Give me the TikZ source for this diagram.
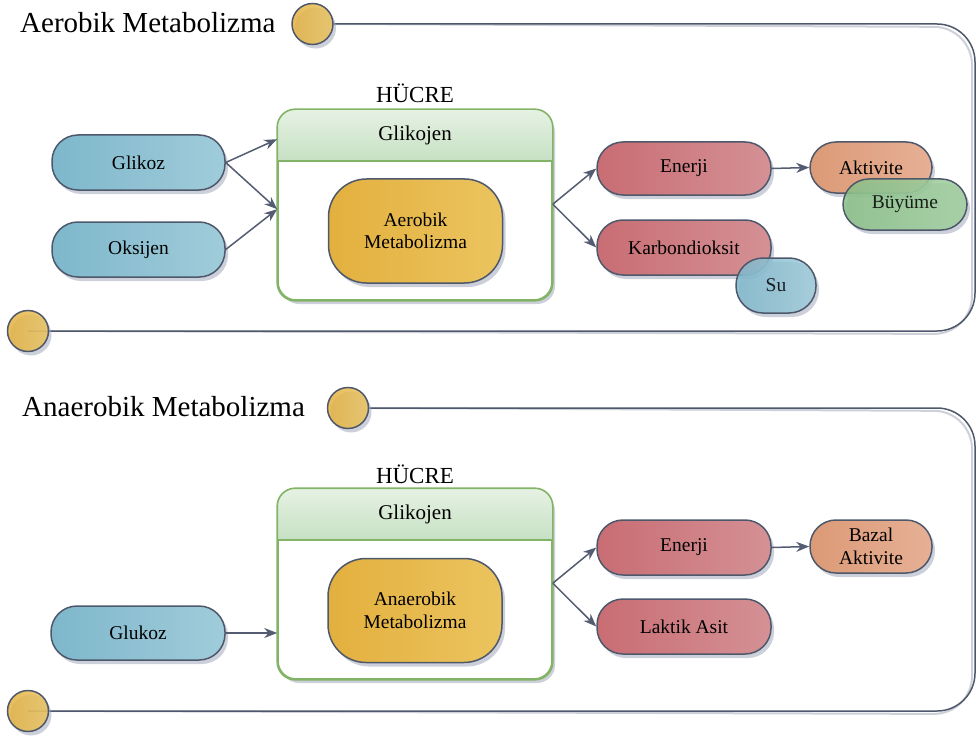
\documentclass[tikz,border=0pt]{standalone}
\usepackage{fontspec}
\setmainfont{Liberation Serif}
\usetikzlibrary{shadows,arrows.meta,calc,backgrounds}

\definecolor{ink}{HTML}{4E586B}
\definecolor{arrowc}{HTML}{535C71}
\definecolor{shadowc}{HTML}{A3A9BB}
\definecolor{blueA}{HTML}{7EB7CB}
\definecolor{blueB}{HTML}{A0CCDA}
\definecolor{redA}{HTML}{C86D73}
\definecolor{redB}{HTML}{D49195}
\definecolor{orA}{HTML}{DC9A76}
\definecolor{orB}{HTML}{E6B096}
\definecolor{grA}{HTML}{88C085}
\definecolor{grB}{HTML}{A2D09F}
\definecolor{yeA}{HTML}{E3B03E}
\definecolor{yeB}{HTML}{EBC45F}
\definecolor{cellline}{HTML}{82B366}
\definecolor{headA}{HTML}{E6F2E4}
\definecolor{headB}{HTML}{C6E0C3}
\definecolor{frameshadow}{HTML}{CDD0D9}

\tikzset{
  softshadow/.style={drop shadow={shadow xshift=3pt, shadow yshift=-4pt, fill=shadowc, opacity=0.55}},
  pill/.style={rectangle, rounded corners=26pt, draw=ink, line width=1.5pt, softshadow,
    align=center, inner sep=0pt, font=\fontsize{19.5}{22.5}\selectfont},
  bluepill/.style={pill, left color=blueA, right color=blueB},
  redpill/.style={pill, left color=redA, right color=redB},
  orpill/.style={pill, left color=orA, right color=orB},
  grpill/.style={pill, left color=grA, right color=grB},
  corepill/.style={pill, rounded corners=38pt, left color=yeA, right color=yeB,
    minimum width=174pt, minimum height=104pt},
  cell/.style={rectangle, rounded corners=18pt, draw=cellline, line width=1.6pt,
    fill=white, softshadow, minimum width=274pt, minimum height=190pt},
  dot/.style={circle, minimum size=41pt, inner sep=0pt, draw=ink, line width=1.5pt,
    left color=yeA, right color=yeB, fill opacity=0.85, softshadow},
  conn/.style={draw=arrowc, line width=1.5pt, -{Stealth[length=13pt, width=10pt]}},
  titletext/.style={anchor=base west, inner sep=0pt, font=\fontsize{29}{34}\selectfont},
  celltitle/.style={anchor=base, inner sep=0pt, font=\fontsize{23}{27}\selectfont},
  headtext/.style={inner sep=0pt, font=\fontsize{21}{25}\selectfont},
  frameline/.style={ink, line width=1.5pt, rounded corners=38pt},
  frameshade/.style={frameshadow, line width=2pt, rounded corners=38pt, xshift=-3pt, yshift=-3pt},
}

\begin{document}
\begin{tikzpicture}[x=1pt, y=-1pt]
\useasboundingbox (0,0) rectangle (976,738);

% ---------- aerobic section ----------
\node[titletext] (t1) at (20,33) {Aerobik Metabolizma};
\node[dot] (ct1) at (312.5,24) {};
\node[dot] (cb1) at (28,331) {};

\node[celltitle] (h1) at (415,103) {HÜCRE};
\node[cell] (box1) at (415,205) {};
\begin{scope}
  \clip[rounded corners=18pt] (box1.north west) rectangle (box1.south east);
  \shade[top color=headA, bottom color=headB] (box1.north west) rectangle ($(box1.north east)+(0,52)$);
\end{scope}
\draw[cellline, line width=1.6pt] ($(box1.north west)+(0,52)$) -- ($(box1.north east)+(0,52)$);
\draw[cellline, line width=1.6pt, rounded corners=18pt] (box1.north west) rectangle (box1.south east);
\node[headtext] (g1) at ($(box1.north)+(0,26)$) {Glikojen};
\node[corepill] (m1) at (415.5,231) {Aerobik\\Metabolizma};

\node[bluepill, minimum width=173pt, minimum height=55pt] (glikoz) at (138.5,162.5) {Glikoz};
\node[bluepill, minimum width=173pt, minimum height=55pt] (oksijen) at (138.5,249.5) {Oksijen};

\node[redpill, minimum width=174pt, minimum height=53pt] (enerji1) at (684,168.5) {Enerji};
\node[redpill, minimum width=174pt, minimum height=55pt] (karbon) at (684,247.5) {Karbondioksit};
\node[orpill, minimum width=122pt, minimum height=51pt] (aktivite) at (871,167.5) {Aktivite};
\node[grpill, minimum width=124pt, minimum height=51pt, fill opacity=0.85] (buyume) at (905,204.5) {Büyüme};
\node[bluepill, minimum width=80pt, minimum height=55pt, rounded corners=27pt, fill opacity=0.85] (su) at (776,285.5) {Su};

\coordinate (in1a) at ($(box1.north west)+(0,30)$);
\coordinate (in1b) at ($(box1.north west)+(0,100)$);
\coordinate (out1) at ($(box1.north east)+(0,95)$);
\draw[conn] (glikoz.east) -- (in1a);
\draw[conn] (glikoz.east) -- (in1b);
\draw[conn] (oksijen.east) -- (in1b);
\draw[conn] (out1) -- (enerji1.west);
\draw[conn] (out1) -- (karbon.west);
\draw[conn] (enerji1.east) -- (aktivite.west);

% ---------- anaerobic section ----------
\node[titletext] (t2) at (22,416) {Anaerobik Metabolizma};
\node[dot] (ct2) at (348,408) {};
\node[dot] (cb2) at (28,711) {};

\node[celltitle] (h2) at (415,483) {HÜCRE};
\node[cell] (box2) at (415,584) {};
\begin{scope}
  \clip[rounded corners=18pt] (box2.north west) rectangle (box2.south east);
  \shade[top color=headA, bottom color=headB] (box2.north west) rectangle ($(box2.north east)+(0,52)$);
\end{scope}
\draw[cellline, line width=1.6pt] ($(box2.north west)+(0,52)$) -- ($(box2.north east)+(0,52)$);
\draw[cellline, line width=1.6pt, rounded corners=18pt] (box2.north west) rectangle (box2.south east);
\node[headtext] (g2) at ($(box2.north)+(0,26)$) {Glikojen};
\node[corepill] (m2) at (415,610.5) {Anaerobik\\Metabolizma};

\node[bluepill, minimum width=174pt, minimum height=54pt] (glukoz) at (138,633) {Glukoz};
\node[redpill, minimum width=174pt, minimum height=55pt] (enerji2) at (684,547.5) {Enerji};
\node[redpill, minimum width=174pt, minimum height=55pt] (laktik) at (684,626.5) {Laktik Asit};
\node[orpill, minimum width=122pt, minimum height=53pt] (bazal) at (871,546.5) {Bazal\\Aktivite};

\coordinate (in2) at (box2.west |- glukoz.east);
\coordinate (out2) at ($(box2.north east)+(0,95)$);
\draw[conn] (glukoz.east) -- (in2);
\draw[conn] (out2) -- (enerji2.west);
\draw[conn] (out2) -- (laktik.west);
\draw[conn] (enerji2.east) -- (bazal.west);

% ---------- section frames ----------
\begin{pgfonlayer}{background}
  \draw[frameshade] (ct1.east) -- (975,24) -- (975,331) -- (cb1.center);
  \draw[frameline]  (ct1.east) -- (975,24) -- (975,331) -- (cb1.center);
  \draw[frameshade] (ct2.east) -- (975,408) -- (975,711) -- (cb2.center);
  \draw[frameline]  (ct2.east) -- (975,408) -- (975,711) -- (cb2.center);
\end{pgfonlayer}
\end{tikzpicture}
\end{document}
